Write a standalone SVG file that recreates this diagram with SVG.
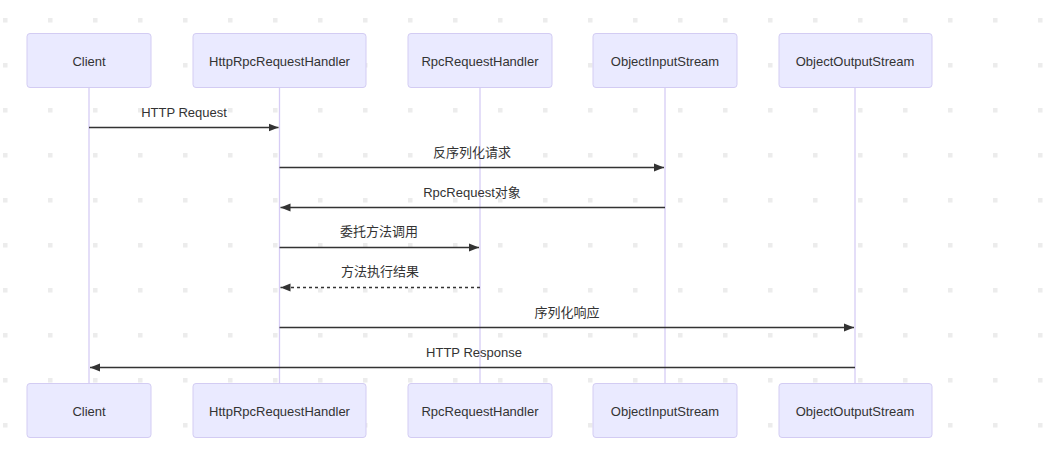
<svg xmlns="http://www.w3.org/2000/svg" width="1044" height="460" viewBox="0 0 1044 460">
<defs>
<pattern id="dots" x="0" y="0" width="45" height="45" patternUnits="userSpaceOnUse">
<rect x="3" y="18" width="4.5" height="4.5" fill="#ececec"/>
</pattern>
<marker id="ah" markerWidth="12" markerHeight="12" refX="10" refY="5" orient="auto" markerUnits="userSpaceOnUse">
<path d="M0,1 L10,5 L0,9 z" fill="#333"/>
</marker>
<style>
.actor{fill:#eaeaff;stroke:#d3ccf3;stroke-width:1}
.atxt{font-family:"Liberation Sans","Noto Sans CJK SC",sans-serif;font-size:13px;fill:#333;text-anchor:middle;dominant-baseline:central}
.life{stroke:#d6ccf5;stroke-width:1.3}
.msg{stroke:#333;stroke-width:1.4;fill:none;marker-end:url(#ah)}
.dash{stroke-dasharray:3,3}
.mtxt{font-family:"Liberation Sans","Noto Sans CJK SC",sans-serif;font-size:13px;fill:#333;text-anchor:middle;dominant-baseline:central}
</style>
</defs>
<rect width="1044" height="460" fill="#fff"/>
<rect width="1044" height="460" fill="url(#dots)"/>
<g id="lifelines">
<line class="life" x1="89" y1="87.5" x2="89" y2="383.5"/>
<line class="life" x1="279.5" y1="87.5" x2="279.5" y2="383.5"/>
<line class="life" x1="480" y1="87.5" x2="480" y2="383.5"/>
<line class="life" x1="665" y1="87.5" x2="665" y2="383.5"/>
<line class="life" x1="855" y1="87.5" x2="855" y2="383.5"/>
</g>
<g id="client-top"><rect class="actor" x="27" y="33.5" width="124" height="54" rx="3"/><text class="atxt" x="89" y="61.5">Client</text></g>
<g id="http-top"><rect class="actor" x="193" y="33.5" width="173" height="54" rx="3"/><text class="atxt" x="279.5" y="61.5">HttpRpcRequestHandler</text></g>
<g id="rpc-top"><rect class="actor" x="408" y="33.5" width="144" height="54" rx="3"/><text class="atxt" x="480" y="61.5">RpcRequestHandler</text></g>
<g id="ois-top"><rect class="actor" x="593" y="33.5" width="144" height="54" rx="3"/><text class="atxt" x="665" y="61.5">ObjectInputStream</text></g>
<g id="oos-top"><rect class="actor" x="779" y="33.5" width="153" height="54" rx="3"/><text class="atxt" x="855" y="61.5">ObjectOutputStream</text></g>
<g id="client-bottom"><rect class="actor" x="27" y="383.5" width="124" height="54" rx="3"/><text class="atxt" x="89" y="411.5">Client</text></g>
<g id="http-bottom"><rect class="actor" x="193" y="383.5" width="173" height="54" rx="3"/><text class="atxt" x="279.5" y="411.5">HttpRpcRequestHandler</text></g>
<g id="rpc-bottom"><rect class="actor" x="408" y="383.5" width="144" height="54" rx="3"/><text class="atxt" x="480" y="411.5">RpcRequestHandler</text></g>
<g id="ois-bottom"><rect class="actor" x="593" y="383.5" width="144" height="54" rx="3"/><text class="atxt" x="665" y="411.5">ObjectInputStream</text></g>
<g id="oos-bottom"><rect class="actor" x="779" y="383.5" width="153" height="54" rx="3"/><text class="atxt" x="855" y="411.5">ObjectOutputStream</text></g>
<g id="connectors">
<line class="msg" x1="89" y1="127.5" x2="278.5" y2="127.5"/>
<text class="mtxt" x="184" y="112.5">HTTP Request</text>
<line class="msg" x1="279.5" y1="167.5" x2="664" y2="167.5"/>
<text class="mtxt" x="472" y="152.5">反序列化请求</text>
<line class="msg" x1="665" y1="207.5" x2="280.5" y2="207.5"/>
<text class="mtxt" x="472" y="192.5">RpcRequest对象</text>
<line class="msg" x1="279.5" y1="247.5" x2="479" y2="247.5"/>
<text class="mtxt" x="379" y="231.5">委托方法调用</text>
<line class="msg dash" x1="480" y1="287.5" x2="280.5" y2="287.5"/>
<text class="mtxt" x="380" y="271.5">方法执行结果</text>
<line class="msg" x1="279.5" y1="327.5" x2="854" y2="327.5"/>
<text class="mtxt" x="567" y="312.5">序列化响应</text>
<line class="msg" x1="855" y1="367.5" x2="90" y2="367.5"/>
<text class="mtxt" x="474" y="352.5">HTTP Response</text>
</g>
</svg>
